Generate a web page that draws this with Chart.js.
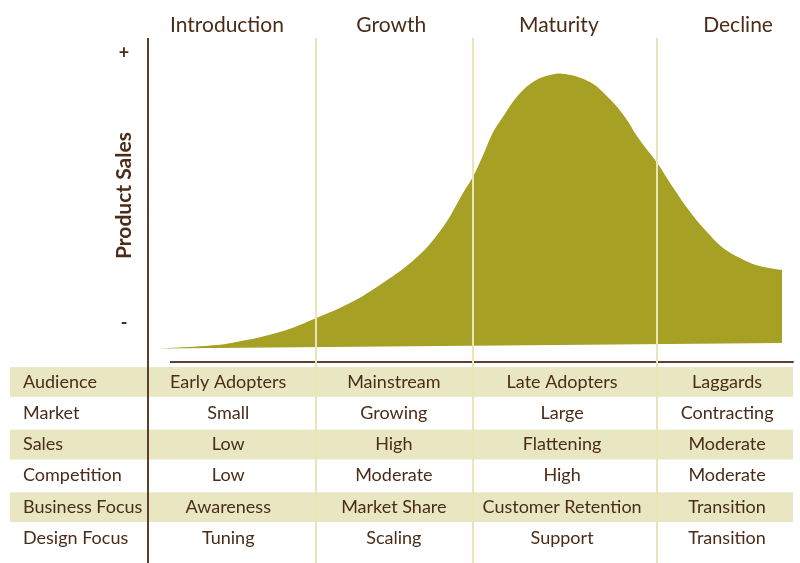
<!DOCTYPE html>
<html>
<head>
<meta charset="utf-8">
<title>Product Life Cycle</title>
<script src="https://cdn.jsdelivr.net/npm/chart.js@4.4.1/dist/chart.umd.min.js"></script>
<style>
  html, body { margin: 0; padding: 0; background: #fff; }
  #wrap { width: 800px; height: 563px; }
</style>
</head>
<body>
<div id="wrap"><canvas id="plc"></canvas></div>
<script>
// Stages along the time axis (x runs 0..100)
const stages = ['Introduction', 'Growth', 'Maturity', 'Decline'];
const stageEdges = [26.0, 50.2, 78.6];
const headerX = [12.2, 37.6, 63.5, 91.2];
const cellX = [12.4, 38.0, 64.0, 89.5];

// Sales curve (y runs 0..100)
const salesX = [1.4, 8.0, 13.1, 20.9, 26.0, 31.2, 36.3, 41.6, 45.6, 48.7, 50.2, 51.8, 53.3, 54.9, 57.0, 59.5, 62.1, 64.5, 68.3, 70.9, 73.4, 76.0, 78.7, 81.1, 83.8, 86.4, 88.9, 91.5, 94.1, 98.0];
const salesY = [4.2, 4.9, 6.0, 9.6, 13.6, 18.2, 24.4, 32.4, 41.7, 52.2, 57.1, 63.9, 70.8, 75.8, 81.8, 86.4, 88.6, 88.9, 86.4, 82.1, 76.5, 68.5, 61.4, 54.0, 46.3, 40.1, 35.2, 32.1, 29.9, 28.4];
const baseX = [1.4, 98.0];
const baseY = [4.2, 5.9];

const yTickValues = [95.4, 12.0];
const yTickLabels = ['+', '-'];

// Table below the chart
const rowLabels = ['Audience', 'Market', 'Sales', 'Competition', 'Business Focus', 'Design Focus'];
const audience = ['Early Adopters', 'Mainstream', 'Late Adopters', 'Laggards'];
const market = ['Small', 'Growing', 'Large', 'Contracting'];
const sales = ['Low', 'High', 'Flattening', 'Moderate'];
const competition = ['Low', 'Moderate', 'High', 'Moderate'];
const businessFocus = ['Awareness', 'Market Share', 'Customer Retention', 'Transition'];
const designFocus = ['Tuning', 'Scaling', 'Support', 'Transition'];
const tableRows = [audience, market, sales, competition, businessFocus, designFocus];

const BROWN = '#4a2c18';
const AXIS = '#5e3f2b';
const OLIVE = '#a6a024';
const SHADE = '#e9e7c1';
const PALE = '#e8e6b6';
const FONT = 'Lato, "Open Sans", sans-serif';

const toPoints = (xs, ys) => xs.map((x, i) => ({ x: x, y: ys[i] }));

const lifeCyclePlugin = {
  id: 'lifeCycle',
  beforeDatasetsDraw(chart) {
    const { ctx, scales: { x, y } } = chart;
    const tableTop = y.getPixelForValue(0) + 5;
    const rowH = 31.3;
    ctx.save();
    // shaded table rows
    ctx.fillStyle = SHADE;
    tableRows.forEach((row, i) => {
      if (i % 2 === 0) ctx.fillRect(10, tableTop + i * rowH, x.getPixelForValue(99.7) - 10, rowH - 1.5);
    });
    ctx.restore();
  },
  afterDatasetsDraw(chart) {
    const { ctx, scales: { x, y }, chartArea } = chart;
    const baseLine = y.getPixelForValue(0);
    const tableTop = baseLine + 5;
    const rowH = 31.3;
    ctx.save();

    // horizontal time axis
    ctx.strokeStyle = AXIS;
    ctx.lineWidth = 2;
    ctx.beginPath();
    ctx.moveTo(x.getPixelForValue(3.4), baseLine);
    ctx.lineTo(x.getPixelForValue(99.8), baseLine);
    ctx.stroke();

    // stage dividers
    ctx.strokeStyle = PALE;
    ctx.lineWidth = 2;
    stageEdges.forEach(v => {
      const px = Math.round(x.getPixelForValue(v));
      ctx.beginPath();
      ctx.moveTo(px, chartArea.top);
      ctx.lineTo(px, chartArea.bottom);
      ctx.stroke();
    });

    // vertical sales axis
    ctx.strokeStyle = AXIS;
    ctx.lineWidth = 2;
    ctx.beginPath();
    ctx.moveTo(chartArea.left, chartArea.top);
    ctx.lineTo(chartArea.left, chartArea.bottom);
    ctx.stroke();

    ctx.fillStyle = BROWN;
    ctx.textBaseline = 'middle';
    ctx.textAlign = 'center';

    // stage headers
    ctx.font = '21px ' + FONT;
    stages.forEach((s, i) => ctx.fillText(s, x.getPixelForValue(headerX[i]), 25));

    // + / - ticks
    ctx.font = 'bold 18px ' + FONT;
    yTickValues.forEach((v, i) => ctx.fillText(yTickLabels[i], chartArea.left - 24, y.getPixelForValue(v)));

    // axis title, read bottom to top
    ctx.save();
    ctx.translate(chartArea.left - 24, 259);
    ctx.rotate(-Math.PI / 2);
    ctx.textAlign = 'left';
    ctx.font = 'bold 21px ' + FONT;
    ctx.fillText('Product Sales', 0, 0);
    ctx.restore();

    // table text
    ctx.font = '18px ' + FONT;
    tableRows.forEach((row, i) => {
      const cy = tableTop + i * rowH + rowH / 2 - 1;
      ctx.textAlign = 'left';
      ctx.fillText(rowLabels[i], 23, cy);
      ctx.textAlign = 'center';
      row.forEach((cell, j) => ctx.fillText(cell, x.getPixelForValue(cellX[j]), cy));
    });

    ctx.restore();
  }
};

new Chart(document.getElementById('plc'), {
  type: 'line',
  data: {
    datasets: [
      {
        label: 'Baseline',
        data: toPoints(baseX, baseY),
        borderColor: 'rgba(0,0,0,0)',
        borderWidth: 0,
        pointRadius: 0,
        fill: false
      },
      {
        label: 'Product Sales',
        data: toPoints(salesX, salesY),
        borderColor: OLIVE,
        borderWidth: 0,
        backgroundColor: OLIVE,
        pointRadius: 0,
        tension: 0.4,
        fill: '-1'
      }
    ]
  },
  plugins: [lifeCyclePlugin],
  options: {
    responsive: true,
    maintainAspectRatio: false,
    animation: false,
    layout: {
      padding: { left: 148, right: 5, top: 38, bottom: 0 }
    },
    plugins: {
      legend: { display: false },
      tooltip: { enabled: false }
    },
    scales: {
      x: { type: 'linear', min: 0, max: 100, display: false },
      y: { type: 'linear', min: -62, max: 100, display: false }
    }
  }
});
</script>
</body>
</html>
